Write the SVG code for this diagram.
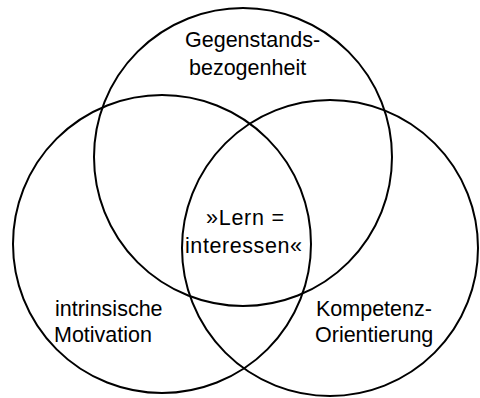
<svg xmlns="http://www.w3.org/2000/svg" width="480" height="398" viewBox="0 0 480 398">
<style>
.c{fill:none;stroke:#000;stroke-width:2}
.t{font-family:"Liberation Sans",Arial,sans-serif;font-size:21.5px;fill:#000}
</style>
<rect width="480" height="398" fill="#fff"/>
<g id="top">
<circle class="c" cx="243" cy="157" r="149"/>
<text class="t" x="185" y="47">Gegenstands-</text>
<text class="t" x="189" y="75">bezogenheit</text>
</g>
<g id="left">
<circle class="c" cx="162" cy="244" r="149"/>
<text class="t" x="55" y="316">intrinsische</text>
<text class="t" x="54" y="342">Motivation</text>
</g>
<g id="right">
<circle class="c" cx="330" cy="248" r="148"/>
<text class="t" x="316" y="316">Kompetenz-</text>
<text class="t" x="315" y="342">Orientierung</text>
</g>
<g id="center">
<text class="t" x="206" y="225" textLength="78" lengthAdjust="spacing">»Lern =</text>
<text class="t" x="185" y="253" textLength="117" lengthAdjust="spacing">interessen«</text>
</g>
</svg>
